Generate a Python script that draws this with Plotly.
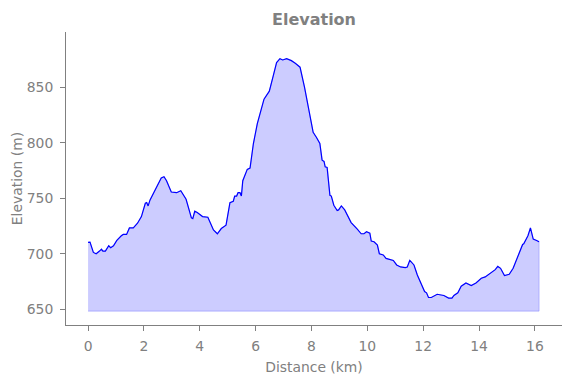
import plotly.graph_objects as go

distance_km = [0.0, 0.07, 0.19, 0.29, 0.41, 0.48, 0.53, 0.62, 0.74, 0.81, 0.91, 1.03, 1.19, 1.26, 1.38,
               1.48, 1.62, 1.77, 1.91, 2.05, 2.10, 2.15, 2.22, 2.46, 2.62, 2.72, 2.81, 2.98, 3.17, 3.32,
               3.51, 3.70, 3.75, 3.82, 3.91, 4.10, 4.29, 4.49, 4.63, 4.77, 4.94, 5.08, 5.20, 5.25, 5.32,
               5.37, 5.44, 5.49, 5.54, 5.70, 5.80, 5.92, 6.06, 6.30, 6.49, 6.63, 6.75, 6.87, 6.97, 7.11,
               7.28, 7.42, 7.59, 7.75, 7.90, 8.06, 8.18, 8.30, 8.38, 8.45, 8.49, 8.56, 8.66, 8.71, 8.80,
               8.92, 8.97, 9.07, 9.19, 9.42, 9.64, 9.78, 9.88, 9.97, 10.09, 10.14, 10.24, 10.36, 10.43,
               10.57, 10.67, 10.83, 10.93, 11.05, 11.19, 11.36, 11.43, 11.52, 11.67, 11.79, 11.95, 12.05,
               12.12, 12.19, 12.29, 12.50, 12.74, 12.91, 13.03, 13.10, 13.24, 13.36, 13.53, 13.72, 13.89,
               14.08, 14.22, 14.43, 14.58, 14.67, 14.77, 14.91, 15.08, 15.22, 15.41, 15.56, 15.60, 15.75,
               15.84, 15.94, 16.06, 16.15]
elevation_m = [710.4, 710.7, 701.4, 700.2, 702.6, 704.4, 702.6, 702.6, 707.4, 705.6, 707.4, 712.2, 716.4,
               717.6, 717.6, 723.5, 723.5, 727.7, 733.7, 745.7, 746.3, 743.3, 748.7, 760.6, 768.4, 769.6,
               766.0, 755.8, 755.2, 757.0, 749.3, 732.5, 731.9, 738.5, 737.3, 733.7, 733.1, 721.7, 718.2,
               722.9, 725.9, 746.3, 747.5, 752.2, 752.2, 755.2, 755.2, 752.2, 766.0, 776.2, 777.4, 799.5,
               817.4, 839.5, 846.7, 860.5, 872.4, 876.0, 874.8, 876.0, 874.2, 871.8, 868.3, 850.3, 829.4,
               809.6, 804.9, 799.5, 784.5, 783.4, 778.5, 778.0, 752.9, 752.2, 743.9, 739.1, 739.7, 743.3,
               739.7, 728.3, 722.4, 718.2, 718.2, 720.0, 718.8, 711.6, 711.0, 708.0, 700.2, 699.1, 696.0,
               694.8, 694.2, 690.1, 688.3, 687.7, 688.3, 694.2, 690.1, 681.1, 671.0, 666.1, 665.0, 660.8,
               660.8, 663.7, 662.6, 660.2, 660.2, 662.6, 665.0, 671.0, 673.9, 671.5, 673.9, 678.1, 679.3,
               683.5, 685.9, 688.8, 687.1, 680.5, 681.7, 687.1, 698.4, 708.6, 709.2, 716.4, 723.5, 713.4,
               712.2, 711.0]
fill_base = 648.5
x_ticks = [0, 2, 4, 6, 8, 10, 12, 14, 16]
y_ticks = [650, 700, 750, 800, 850]

poly_x = distance_km + distance_km[::-1]
poly_y = elevation_m + [fill_base] * len(distance_km)

GRAY = "#808080"
FONT = "DejaVu Sans"

fig = go.Figure()
fig.add_trace(go.Scatter(x=poly_x, y=poly_y, mode="lines", fill="toself",
                         fillcolor="rgba(0,0,255,0.2)",
                         line=dict(color="rgba(0,0,255,0.2)", width=1),
                         hoverinfo="skip", showlegend=False))
fig.add_trace(go.Scatter(x=distance_km, y=elevation_m, mode="lines",
                         line=dict(color="#0000ff", width=1.2), showlegend=False))

axis_common = dict(showgrid=False, zeroline=False, showline=True, linecolor=GRAY, linewidth=1,
                   ticks="outside", ticklen=5, tickcolor=GRAY, tickwidth=1,
                   tickfont=dict(family=FONT, size=13.9, color=GRAY))
fig.update_xaxes(range=[-0.79, 16.97], tickvals=x_ticks, ticklabelstandoff=3,
                 title=dict(text="Distance (km)", font=dict(family=FONT, size=13.9, color=GRAY), standoff=9),
                 **axis_common)
fig.update_yaxes(range=[636, 900], tickvals=y_ticks, ticklabelstandoff=4,
                 title=dict(text="Elevation (m)", font=dict(family=FONT, size=13.9, color=GRAY), standoff=0),
                 **axis_common)
fig.update_layout(
    width=571, height=378,
    margin=dict(l=66, r=9, t=32, b=53, autoexpand=False),
    plot_bgcolor="white", paper_bgcolor="white",
    title=dict(text="<b>Elevation</b>", x=0.5, xref="paper", y=1 - 19 / 378, yref="container",
               yanchor="middle", xanchor="center",
               font=dict(family=FONT, size=16, color=GRAY)),
)
fig.write_html("out.html", config={"displayModeBar": False},
               post_script="document.body.style.margin='0';")
